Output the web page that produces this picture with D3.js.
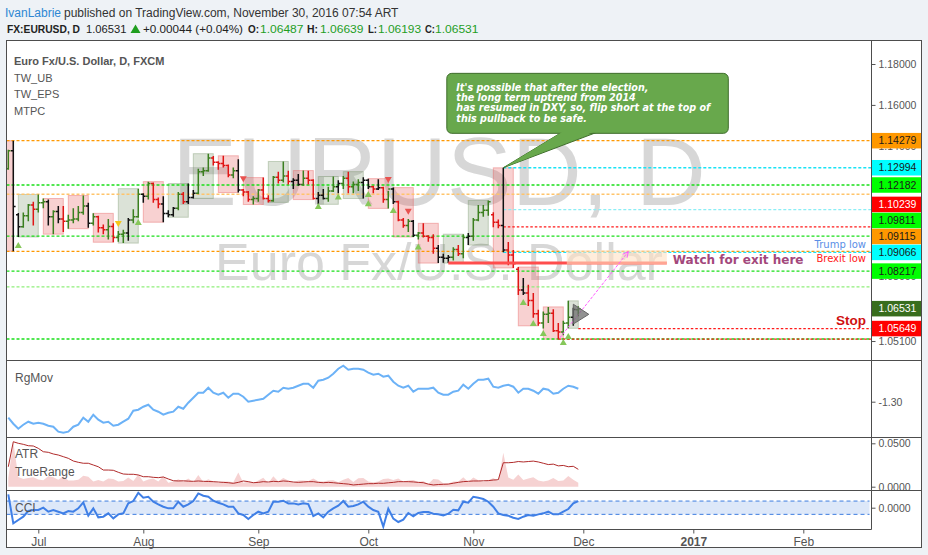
<!DOCTYPE html>
<html>
<head>
<meta charset="utf-8">
<script src="https://cdn.jsdelivr.net/npm/d3@7/dist/d3.min.js"></script>
<style>
  body { margin: 0; background: #eef2f6; }
  svg { display: block; font-family: "Liberation Sans", Arial, sans-serif; }
</style>
</head>
<body>
<div id="chart"></div>
<script>
// EURUSD daily (FXCM), Jun 23 - Nov 30 2016
const firstDay = new Date(2016, 5, 23);

// [open, high, low, close], one row per trading day
const ohlc = [
  [1.1295,1.1385,1.1290,1.1380],[1.1380,1.1428,1.0912,1.1118],[1.1080,1.1088,1.0977,1.1024],[1.1024,1.1090,1.1020,1.1075],
  [1.1075,1.1130,1.1050,1.1125],[1.1125,1.1140,1.1030,1.1105],[1.1105,1.1174,1.1090,1.1135],[1.1135,1.1155,1.1110,1.1140],
  [1.1140,1.1150,1.1030,1.1070],[1.1070,1.1100,1.0990,1.1095],[1.1095,1.1120,1.1040,1.1060],[1.1060,1.1120,1.1000,1.1050],
  [1.1050,1.1080,1.1015,1.1055],[1.1055,1.1110,1.1040,1.1060],[1.1060,1.1120,1.1050,1.1090],[1.1090,1.1169,1.1080,1.1120],
  [1.1120,1.1135,1.1020,1.1040],[1.1040,1.1086,1.1030,1.1070],[1.1070,1.1075,1.0998,1.1020],[1.1020,1.1035,1.0990,1.1010],
  [1.1010,1.1060,1.0965,1.1025],[1.1025,1.1040,1.0953,1.0975],[1.0975,1.1005,1.0955,1.0990],[1.0990,1.1010,1.0949,1.0995],
  [1.0995,1.1065,1.0960,1.1055],[1.1055,1.1105,1.1040,1.1070],[1.1070,1.1201,1.1066,1.1175],[1.1175,1.1180,1.1135,1.1165],
  [1.1165,1.1234,1.1150,1.1225],[1.1225,1.1230,1.1135,1.1150],[1.1150,1.1160,1.1110,1.1130],[1.1130,1.1165,1.1045,1.1085],
  [1.1085,1.1100,1.1068,1.1080],[1.1080,1.1115,1.1070,1.1110],[1.1110,1.1185,1.1100,1.1175],[1.1175,1.1185,1.1130,1.1140],
  [1.1140,1.1225,1.1130,1.1160],[1.1160,1.1195,1.1155,1.1180],[1.1180,1.1295,1.1175,1.1280],[1.1280,1.1300,1.1260,1.1285],
  [1.1285,1.1366,1.1280,1.1345],[1.1345,1.1355,1.1310,1.1325],[1.1325,1.1330,1.1290,1.1320],[1.1320,1.1356,1.1300,1.1310],
  [1.1310,1.1315,1.1255,1.1265],[1.1265,1.1300,1.1250,1.1285],[1.1285,1.1340,1.1183,1.1195],[1.1195,1.1200,1.1165,1.1185],
  [1.1185,1.1190,1.1140,1.1150],[1.1150,1.1165,1.1127,1.1155],[1.1155,1.1200,1.1140,1.1195],[1.1195,1.1253,1.1150,1.1155],
  [1.1155,1.1170,1.1137,1.1145],[1.1145,1.1260,1.1140,1.1255],[1.1255,1.1280,1.1225,1.1240],[1.1240,1.1329,1.1230,1.1260],
  [1.1260,1.1285,1.1220,1.1235],[1.1235,1.1250,1.1200,1.1240],[1.1240,1.1270,1.1215,1.1220],[1.1220,1.1286,1.1215,1.1250],
  [1.1250,1.1285,1.1220,1.1240],[1.1240,1.1245,1.1150,1.1155],[1.1155,1.1185,1.1128,1.1170],[1.1170,1.1200,1.1150,1.1155],
  [1.1155,1.1210,1.1140,1.1190],[1.1190,1.1258,1.1185,1.1210],[1.1210,1.1240,1.1180,1.1225],[1.1225,1.1260,1.1200,1.1250],
  [1.1250,1.1281,1.1180,1.1210],[1.1210,1.1235,1.1180,1.1220],[1.1220,1.1245,1.1190,1.1230],[1.1230,1.1255,1.1155,1.1240],
  [1.1240,1.1248,1.1200,1.1210],[1.1210,1.1215,1.1180,1.1200],[1.1200,1.1245,1.1195,1.1205],[1.1205,1.1210,1.1135,1.1150],
  [1.1150,1.1190,1.1109,1.1200],[1.1200,1.1206,1.1130,1.1140],[1.1140,1.1145,1.1050,1.1055],[1.1055,1.1065,1.1020,1.1030],
  [1.1030,1.1060,1.1000,1.1050],[1.1050,1.1055,1.0977,1.0985],[1.0985,1.1000,1.0965,1.0995],[1.0995,1.1040,1.0975,1.0980],
  [1.0980,1.0985,1.0955,1.0975],[1.0975,1.0990,1.0900,1.0925],[1.0925,1.0940,1.0858,1.0885],[1.0885,1.0900,1.0860,1.0880],
  [1.0880,1.0895,1.0858,1.0885],[1.0885,1.0930,1.0870,1.0920],[1.0920,1.0940,1.0890,1.0900],[1.0900,1.0990,1.0880,1.0975],
  [1.0975,1.0995,1.0940,1.0980],[1.0980,1.1065,1.0960,1.1055],[1.1055,1.1125,1.1050,1.1090],[1.1090,1.1125,1.1070,1.1100],
  [1.1100,1.1146,1.1075,1.1140],[1.1080,1.1091,1.1022,1.1045],[1.1045,1.1058,1.1017,1.1030],[1.1030,1.1299,1.0907,1.0917],
  [1.0917,1.0954,1.0848,1.0895],[1.0895,1.0917,1.0836,1.0855],[1.0830,1.0840,1.0714,1.0737],[1.0737,1.0790,1.0714,1.0723],
  [1.0723,1.0760,1.0665,1.0690],[1.0690,1.0723,1.0613,1.0630],[1.0630,1.0648,1.0577,1.0590],[1.0590,1.0640,1.0565,1.0628],
  [1.0628,1.0661,1.0590,1.0633],[1.0633,1.0650,1.0550,1.0555],[1.0555,1.0590,1.0518,1.0550],[1.0550,1.0600,1.0535,1.0588],
  [1.0590,1.0688,1.0566,1.0615],[1.0615,1.0657,1.0577,1.0649],[1.06487,1.06639,1.06193,1.06531]
];
// bars painted black (neutral) by the bar colouring study
const blackBars = [1,2,8,10,16,24,27,31,32,33,36,37,46,57,58,62,63,66,71,72,74,77,81,86,87,88,92,99,103,113];

const rgMov = [
  -1.46,-1.52,-1.57,-1.53,-1.50,-1.52,-1.51,-1.52,-1.54,-1.55,-1.60,-1.61,-1.60,-1.55,-1.53,-1.46,-1.50,-1.43,-1.48,-1.51,
  -1.50,-1.54,-1.53,-1.50,-1.47,-1.39,-1.38,-1.35,-1.33,-1.38,-1.40,-1.43,-1.41,-1.40,-1.35,-1.37,-1.31,-1.26,-1.21,-1.21,
  -1.16,-1.21,-1.23,-1.21,-1.26,-1.22,-1.22,-1.25,-1.30,-1.29,-1.28,-1.27,-1.23,-1.19,-1.20,-1.16,-1.17,-1.16,-1.14,-1.12,
  -1.12,-1.16,-1.09,-1.08,-1.06,-1.02,-0.97,-0.94,-0.98,-0.97,-0.97,-0.98,-1.01,-1.03,-1.02,-1.05,-1.04,-1.10,-1.14,-1.16,
  -1.14,-1.20,-1.17,-1.17,-1.17,-1.16,-1.21,-1.23,-1.23,-1.20,-1.19,-1.13,-1.17,-1.12,-1.08,-1.08,-1.07,-1.15,-1.16,-1.14,
  -1.13,-1.15,-1.21,-1.17,-1.17,-1.19,-1.22,-1.17,-1.18,-1.22,-1.21,-1.17,-1.14,-1.15,-1.17
];
const atr = [
  0.0230,0.0518,0.0500,0.0488,0.0472,0.0469,0.0442,0.0403,0.0396,0.0377,0.0365,0.0346,0.0327,0.0296,0.0281,0.0270,0.0270,0.0250,0.0230,0.0192,
  0.0192,0.0189,0.0166,0.0146,0.0143,0.0143,0.0135,0.0115,0.0115,0.0108,0.0104,0.0112,0.0089,0.0069,0.0066,0.0068,0.0064,0.0062,0.0066,0.0062,
  0.0060,0.0058,0.0054,0.0050,0.0046,0.0039,0.0050,0.0066,0.0058,0.0046,0.0050,0.0058,0.0054,0.0062,0.0058,0.0066,0.0062,0.0054,0.0050,0.0054,
  0.0058,0.0058,0.0050,0.0046,0.0050,0.0046,0.0040,0.0035,0.0030,0.0020,0.0025,0.0030,0.0035,0.0035,0.0040,0.0039,0.0045,0.0050,0.0058,0.0058,
  0.0058,0.0055,0.0050,0.0046,0.0030,0.0020,0.0025,0.0028,0.0030,0.0040,0.0050,0.0058,0.0062,0.0066,0.0066,0.0068,0.0070,0.0077,0.0080,0.0276,
  0.0276,0.0280,0.0290,0.0285,0.0290,0.0295,0.0285,0.0270,0.0255,0.0260,0.0240,0.0245,0.0230,0.0235,0.0200
];
const trueRange = [
  0.0100,0.0516,0.0111,0.0090,0.0100,0.0110,0.0084,0.0075,0.0120,0.0110,0.0080,0.0120,0.0070,0.0070,0.0080,0.0125,0.0115,0.0060,0.0077,0.0060,
  0.0095,0.0090,0.0060,0.0065,0.0105,0.0065,0.0141,0.0060,0.0084,0.0095,0.0060,0.0120,0.0045,0.0060,0.0085,0.0060,0.0095,0.0050,0.0135,0.0055,
  0.0086,0.0060,0.0045,0.0060,0.0060,0.0050,0.0165,0.0045,0.0060,0.0040,0.0070,0.0103,0.0040,0.0120,0.0060,0.0099,0.0070,0.0050,0.0070,0.0071,
  0.0065,0.0095,0.0062,0.0060,0.0070,0.0073,0.0050,0.0081,0.0101,0.0055,0.0096,0.0100,0.0060,0.0050,0.0060,0.0090,0.0095,0.0076,0.0095,0.0060,
  0.0070,0.0078,0.0055,0.0065,0.0030,0.0090,0.0082,0.0040,0.0037,0.0060,0.0060,0.0110,0.0055,0.0105,0.0075,0.0055,0.0071,0.0100,0.0060,0.0392,
  0.0106,0.0081,0.0140,0.0076,0.0095,0.0110,0.0071,0.0060,0.0071,0.0100,0.0066,0.0070,0.0122,0.0080,0.0046
];
const cci = [
  201,-235,-185,-135,-50,-35,-35,0,-60,-35,-60,-85,-50,-60,-10,80,-120,-10,-145,-135,
  -85,-160,-100,-85,65,100,225,150,165,90,50,15,-10,-10,90,15,50,100,215,180,
  165,105,75,50,15,15,-85,-110,-170,-110,-60,-85,-60,90,90,105,65,65,50,65,
  55,-125,-85,-145,-60,-10,30,100,15,25,50,90,15,-35,-60,-285,-15,-165,-215,-180,
  -80,-130,-80,-65,-65,-90,-100,-115,-90,-30,-40,90,75,165,150,130,90,15,-85,-110,
  -120,-150,-170,-135,-110,-120,-100,-85,-60,-100,-100,-60,-20,65,100
];

// TW_EPS signal markers
const sigIdx   = [2, 22, 26, 47, 62, 66, 72, 72, 76, 77, 80, 82, 103, 105, 107, 111, 112];
const sigPrice = [1.0940,1.1037,1.1046,1.1245,1.1120,1.1164,1.1176,1.1133,1.1242,1.1102,1.1094,1.0933,1.0683,1.0590,1.0545,1.0506,1.0532];
const sigKind  = ["up","warn","up","down","up","up","up","up","down","up","down","up","up","up","up","up","up"];

// horizontal levels drawn by the author
const levelPrice = [1.14279, 1.12994, 1.12182, 1.1175, 1.1103, 1.10239, 1.09811, 1.09115, 1.09066, 1.08217, 1.0751, 1.05649, 1.0519, 1.0518];
const levelFrom  = [-5, 99, -5, -5, 99, 99, -5, -5, 99, -5, -5, 114, -5, 110];
const levelKind  = ["orange","cyan","green","orangeLight","cyanLight","red","green","orange","cyan","green","greenLight","red","green","red"];
const levelTag   = [1, 1, 1, 0, 0, 1, 1, 1, 1, 1, 0, 1, 0, 0];
const levelNote  = {"1.09066": "Trump low", "1.09115": "Brexit low", "1.05649": "Stop"};
const lastPrice = 1.06531;

// axis ticks that are not hidden behind the level tags
const priceTicks = [1.18, 1.16, 1.14, 1.08, 1.051];

// drawings in chart coordinates (bar index, price)
const exitZone = {i0: 111.7, i1: 131.7, top: 1.0917, bottom: 1.0852};
const brexitLine = {i0: 88, i1: 131.7, price: 1.0858};
const projection = {i0: 110.3, p0: 1.0524, i1: 124, p1: 1.0910};
const lastMarker = [[113, 1.0673], [116.1, 1.0628], [113, 1.0585]];
const callout = {anchor: [99, 1.12994], i0: 87.7, i1: 144, top: 1.1754, bottom: 1.1463, base0: 110.7, base1: 117.7,
  lines: ["It's possible that after the election,", "the long term uptrend from 2014",
          "has resumed in DXY, so, flip short at the top of", "this pullback to be safe."]};

// ---------- layout ----------
const W = 928, H = 555;
const L = 6.5, R = 871.5, EDGE = 921.5, TOP = 40.5, BOTTOM = 547.5;
const pane = {price: [TOP, 360.5], rg: [360.5, 437.5], atr: [437.5, 490.5], cci: [490.5, 529.5]};

const days = d3.timeDays(firstDay, new Date(2017, 1, 28)).filter(d => d.getDay() % 6 !== 0);
const bars = ohlc.map((d, i) => ({i, date: days[i], o: d[0], h: d[1], l: d[2], c: d[3]}));
const black = new Set(blackBars);

const x = d3.scaleLinear().domain([0, 159]).range([8.3, 803.3]);
const y = d3.scaleLog().domain([1.0427, 1.1919]).range([360, 40]);
const yRg = d3.scaleLinear().domain([-1.653, -0.883]).range([437, 360]);
const yAtr = d3.scaleLinear().domain([0, 0.05]).range([486.7, 443.3]);
const yCci = d3.scaleLinear().domain([-100, 100]).range([514.35, 501.05]);

const svg = d3.select("#chart").append("svg").attr("width", W).attr("height", H);
const defs = svg.append("defs");
function clip(id, y0, y1, x1) {
  defs.append("clipPath").attr("id", id).append("rect")
    .attr("x", L + 0.5).attr("y", y0 + 0.5).attr("width", (x1 || R) - L - 1).attr("height", y1 - y0 - 1);
  return "url(#" + id + ")";
}

svg.append("rect").attr("width", W).attr("height", H).attr("fill", "#eef2f6");
svg.append("rect").attr("x", L).attr("y", TOP).attr("width", EDGE - L).attr("height", BOTTOM - TOP)
  .attr("fill", "#fff");

// ---------- header ----------
svg.append("text").attr("x", 5).attr("y", 17).attr("font-size", 12).attr("fill", "#2d87d3").text("IvanLabrie");
svg.append("text").attr("x", 64).attr("y", 17).attr("font-size", 12).attr("fill", "#333")
  .text("published on TradingView.com, November 30, 2016 07:54 ART");
const quote = [
  ["FX:EURUSD, D", 7, "bold", "#222", 73], ["1.06531", 86, "normal", "#222", 40.5], ["+0.00044 (+0.04%)", 143, "normal", "#222", 100],
  ["O:", 248, "bold", "#222", 11], ["1.06487", 260, "normal", "#1f9e1f", 43.5], ["H:", 307, "bold", "#222", 11],
  ["1.06639", 320, "normal", "#1f9e1f", 43.5], ["L:", 368, "bold", "#222", 9], ["1.06193", 378, "normal", "#1f9e1f", 43],
  ["C:", 425, "bold", "#222", 10], ["1.06531", 435, "normal", "#1f9e1f", 43.5]
];
svg.append("g").selectAll("text").data(quote).join("text")
  .attr("x", d => d[1]).attr("y", 33).attr("font-size", 11.5)
  .attr("font-weight", d => d[2]).attr("fill", d => d[3])
  .attr("textLength", d => d[4]).attr("lengthAdjust", "spacingAndGlyphs").text(d => d[0]);
svg.append("path").attr("d", "M130.5,33L135.5,24.5L140.5,33Z").attr("fill", "#1f9e1f");

// ---------- price pane ----------
const pg = svg.append("g").attr("clip-path", clip("cp-price", pane.price[0], pane.price[1]));
const midX = (L + R) / 2;
pg.append("text").attr("x", midX).attr("y", 205).attr("text-anchor", "middle")
  .attr("font-size", 97).attr("fill", "rgba(110,110,110,0.28)").text("EURUSD, D");
pg.append("text").attr("x", midX).attr("y", 280).attr("text-anchor", "middle")
  .attr("font-size", 52).attr("fill", "rgba(110,110,110,0.28)").text("Euro Fx/U.S. Dollar");

// weekly boxes (TW_UB)
const weeks = d3.groups(bars, b => +d3.timeMonday.floor(b.date)).map(([, g]) => {
  const first = g[0], last = g[g.length - 1];
  return {i0: first.i - (first.date.getDay() - 1), i1: last.i,
          hi: d3.max(g, b => b.h), lo: d3.min(g, b => b.l), up: last.c > first.o};
});
pg.append("g").selectAll("rect").data(weeks).join("rect")
  .attr("x", d => x(d.i0)).attr("width", d => x(d.i1) - x(d.i0))
  .attr("y", d => y(d.hi)).attr("height", d => y(d.lo) - y(d.hi))
  .attr("fill", d => d.up ? "rgba(110,140,95,0.25)" : "rgba(230,90,90,0.28)")
  .attr("stroke", d => d.up ? "rgba(110,140,95,0.35)" : "rgba(230,90,90,0.4)");

// horizontal levels
const levelStyle = {
  orange: "#ff9800", orangeLight: "#ffc46a", cyan: "#19e3f5", cyanLight: "#8ceef5",
  green: "#19e019", greenLight: "#8ff07a", red: "#ff1a1a"
};
const levels = levelPrice.map((p, k) => ({price: p, from: levelFrom[k], kind: levelKind[k], tag: levelTag[k]}));
pg.append("g").selectAll("line").data(levels).join("line")
  .attr("x1", d => Math.max(L, x(d.from))).attr("x2", R)
  .attr("y1", d => y(d.price)).attr("y2", d => y(d.price))
  .attr("stroke", d => levelStyle[d.kind]).attr("stroke-width", 1.3)
  .attr("stroke-dasharray", d => d.kind === "red" ? "2.5,2" : "3,2");

// OHLC bars
pg.append("g").selectAll("path").data(bars).join("path")
  .attr("d", b => `M${x(b.i)},${y(b.h)}V${y(b.l)}M${x(b.i) - 2.3},${y(b.o)}H${x(b.i)}M${x(b.i)},${y(b.c)}H${x(b.i) + 2.3}`)
  .attr("fill", "none").attr("stroke-width", 1.5)
  .attr("stroke", b => black.has(b.i) ? "#111" : b.c >= b.o ? "#3b7f1f" : "#e01515");

// signal triangles
const sigColor = {up: "#86c75a", down: "#e8524f", warn: "#f5c518"};
pg.append("g").selectAll("path").data(sigIdx.map((i, k) => ({i, p: sigPrice[k], kind: sigKind[k]}))).join("path")
  .attr("d", d => {
    const cx = x(d.i), cy = y(d.p);
    return d.kind === "up" ? `M${cx - 3.5},${cy + 3}L${cx + 3.5},${cy + 3}L${cx},${cy - 3}Z`
                           : `M${cx - 3.5},${cy - 3}L${cx + 3.5},${cy - 3}L${cx},${cy + 3}Z`;
  })
  .attr("fill", d => sigColor[d.kind]);

// brexit-low line and exit zone
pg.append("line").attr("x1", x(brexitLine.i0)).attr("x2", x(brexitLine.i1))
  .attr("y1", y(brexitLine.price)).attr("y2", y(brexitLine.price))
  .attr("stroke", "#ff4d4d").attr("stroke-width", 3);
pg.append("rect").attr("x", x(exitZone.i0)).attr("width", x(exitZone.i1) - x(exitZone.i0))
  .attr("y", y(exitZone.top)).attr("height", y(exitZone.bottom) - y(exitZone.top))
  .attr("fill", "rgba(255,225,195,0.6)");
pg.append("text").attr("x", x(exitZone.i1) + 6).attr("y", y(brexitLine.price) + 1)
  .attr("font-family", "DejaVu Sans").attr("font-weight", "bold").attr("font-size", 12)
  .attr("fill", "#a3487c").text("Watch for exit here");

// notes on levels
const noteStyle = {
  "Trump low": {fill: "#5a8ee6", size: 10, weight: "normal", family: "DejaVu Sans", dy: -4},
  "Brexit low": {fill: "#ff2020", size: 10, weight: "normal", family: "DejaVu Sans", dy: 10.5},
  "Stop": {fill: "#cf1010", size: 13.5, weight: "bold", family: "Liberation Sans", dy: -3.5}
};
pg.append("g").selectAll("text").data(levels.filter(d => levelNote[d.price])).join("text")
  .each(function (d) {
    const s = noteStyle[levelNote[d.price]];
    d3.select(this).attr("x", R - 5.5).attr("y", y(d.price) + s.dy).attr("text-anchor", "end")
      .attr("font-family", s.family).attr("font-size", s.size).attr("font-weight", s.weight)
      .attr("fill", s.fill).text(levelNote[d.price]);
  });

// projection arrow
defs.append("marker").attr("id", "head").attr("viewBox", "0 0 10 10").attr("refX", 9).attr("refY", 5)
  .attr("markerWidth", 7).attr("markerHeight", 7).attr("markerUnits", "userSpaceOnUse").attr("orient", "auto")
  .append("path").attr("d", "M1,1L9,5L1,9").attr("fill", "none").attr("stroke", "#ff5cff").attr("stroke-width", 1.3);
pg.append("line").attr("x1", x(projection.i0)).attr("y1", y(projection.p0))
  .attr("x2", x(projection.i1)).attr("y2", y(projection.p1))
  .attr("stroke", "#ff5cff").attr("stroke-width", 1).attr("stroke-dasharray", "3,1.5").attr("marker-end", "url(#head)");

// last bar marker
pg.append("path").attr("d", d3.line().x(d => x(d[0])).y(d => y(d[1]))(lastMarker) + "Z")
  .attr("fill", "rgba(110,110,110,0.75)").attr("stroke", "#666");

// callout
const cx0 = x(callout.i0), cx1 = x(callout.i1), cyT = y(callout.top), cyB = y(callout.bottom);
const tail = [[x(callout.base0), cyB - 1], [x(callout.anchor[0]), y(callout.anchor[1])], [x(callout.base1), cyB - 1]];
pg.append("path").attr("d", d3.line()(tail) + "Z").attr("fill", "#68a84c").attr("stroke", "#3f6d2c");
pg.append("rect").attr("x", cx0).attr("y", cyT).attr("width", cx1 - cx0).attr("height", cyB - cyT).attr("rx", 5)
  .attr("fill", "#68a84c").attr("stroke", "#3f6d2c");
pg.append("path").attr("d", d3.line()([[tail[0][0] + 1.5, cyB - 2], tail[1], [tail[2][0] - 1.5, cyB - 2]]) + "Z")
  .attr("fill", "#68a84c");
pg.append("g").selectAll("text").data(callout.lines).join("text")
  .attr("x", cx0 + 9.5).attr("y", (d, k) => cyT + 17.4 + k * 10.35)
  .attr("font-family", "DejaVu Sans").attr("font-weight", "bold").attr("font-style", "italic")
  .attr("font-size", 9.6).attr("fill", "#fff").text(d => d);

// legend
const legend = [["Euro Fx/U.S. Dollar, D, FXCM", "bold"], ["TW_UB", "normal"], ["TW_EPS", "normal"], ["MTPC", "normal"]];
svg.append("g").selectAll("text").data(legend).join("text")
  .attr("x", 14).attr("y", (d, k) => 65 + k * 16.7).attr("font-size", 11).attr("font-weight", d => d[1])
  .attr("fill", "#555").text(d => d[0]);

// ---------- indicator panes ----------
const rgG = svg.append("g").attr("clip-path", clip("cp-rg", pane.rg[0], pane.rg[1]));
rgG.append("path").datum(rgMov).attr("fill", "none").attr("stroke", "#6cb2f7").attr("stroke-width", 2)
  .attr("d", d3.line().x((d, i) => x(i)).y(d => yRg(d)));

const atrG = svg.append("g").attr("clip-path", clip("cp-atr", pane.atr[0], pane.atr[1]));
atrG.append("path").datum(trueRange).attr("fill", "#f6d2d2")
  .attr("d", d3.area().x((d, i) => x(i)).y0(yAtr(0)).y1(d => yAtr(d)));
atrG.append("path").datum(atr).attr("fill", "none").attr("stroke", "#b02a2a").attr("stroke-width", 1)
  .attr("d", d3.line().x((d, i) => x(i)).y(d => yAtr(d)));

const cciG = svg.append("g").attr("clip-path", clip("cp-cci", pane.cci[0], pane.cci[1]));
cciG.append("rect").attr("x", L).attr("width", 869.5 - L).attr("y", yCci(100)).attr("height", yCci(-100) - yCci(100))
  .attr("fill", "#dde8f9");
cciG.selectAll("line.band").data([100, -100]).join("line").attr("class", "band")
  .attr("x1", L).attr("x2", 869.5).attr("y1", d => yCci(d)).attr("y2", d => yCci(d))
  .attr("stroke", "#3d7de0").attr("stroke-dasharray", "4,3");
cciG.append("path").datum(cci).attr("fill", "none").attr("stroke", "#3f7fe6").attr("stroke-width", 2)
  .attr("d", d3.line().x((d, i) => x(i)).y(d => yCci(d)));

const paneLabels = [["RgMov", 382.3], ["ATR", 458.3], ["TrueRange", 475.7], ["CCI", 511.7]];
svg.append("g").selectAll("text").data(paneLabels).join("text")
  .attr("x", 15).attr("y", d => d[1]).attr("font-size", 12).attr("fill", "#555").text(d => d[0]);

// ---------- axes ----------
function styleAxis(g, size) {
  g.select(".domain").remove();
  g.selectAll("line").attr("stroke", "#555");
  g.selectAll("text").attr("fill", "#555").attr("font-size", size).attr("font-family", "Liberation Sans, Arial, sans-serif");
}
const axisClip = (id, p) => {
  defs.append("clipPath").attr("id", id).append("rect").attr("x", R).attr("y", p[0] + 0.5)
    .attr("width", EDGE - R).attr("height", p[1] - p[0] - 1);
  return "url(#" + id + ")";
};
svg.append("g").attr("clip-path", axisClip("ax-price", pane.price)).append("g").attr("transform", `translate(${R},0)`)
  .call(d3.axisRight(y).tickValues(priceTicks).tickSize(4).tickPadding(3).tickFormat(d => d.toFixed(5)))
  .call(g => styleAxis(g, 10.5));
svg.append("g").attr("clip-path", axisClip("ax-rg", pane.rg)).append("g").attr("transform", `translate(${R},0)`)
  .call(d3.axisRight(yRg).tickValues([-1.30]).tickSize(4).tickPadding(3).tickFormat(d => d.toFixed(2)))
  .call(g => styleAxis(g, 10.5));
svg.append("g").attr("clip-path", axisClip("ax-atr", pane.atr)).append("g").attr("transform", `translate(${R},0)`)
  .call(d3.axisRight(yAtr).tickValues([0, 0.05]).tickSize(4).tickPadding(3).tickFormat(d => d.toFixed(4)))
  .call(g => styleAxis(g, 10.5));
svg.append("g").attr("clip-path", axisClip("ax-cci", pane.cci)).append("g").attr("transform", `translate(${R},0)`)
  .call(d3.axisRight(yCci).tickValues([0]).tickSize(4).tickPadding(3).tickFormat(d => d.toFixed(4)))
  .call(g => styleAxis(g, 10.5));

// price tags, pushed up where they would collide
const tagStyle = {orange: ["#ff9800", "#1a1a1a"], cyan: ["#00ffff", "#1a1a1a"], green: ["#00ff00", "#1a1a1a"],
                  red: ["#ff0000", "#fff"], last: ["#386d1d", "#fff"]};
const tags = levels.filter(d => d.tag).map(d => ({price: d.price, kind: d.kind}));
tags.push({price: lastPrice, kind: "last"});
tags.forEach(t => t.y = y(t.price));
tags.sort((a, b) => b.y - a.y);
for (let k = 1; k < tags.length; k++) tags[k].y = Math.min(tags[k].y, tags[k - 1].y - 16);
const tagG = svg.append("g").attr("clip-path", axisClip("ax-tags", pane.price));
const tg = tagG.selectAll("g").data(tags).join("g").attr("transform", d => `translate(${R},${d.y})`);
tg.append("rect").attr("x", 0).attr("y", -7.75).attr("width", EDGE - R - 0.5).attr("height", 15.5)
  .attr("fill", d => tagStyle[d.kind][0]);
tg.append("text").attr("x", 7).attr("dy", "0.35em").attr("font-size", 10.5)
  .attr("fill", d => tagStyle[d.kind][1]).text(d => d.price.toFixed(5));

// time axis
const monthStarts = days.map((d, i) => ({d, i})).filter(({d, i}) => i > 0 && d.getMonth() !== days[i - 1].getMonth());
svg.append("g").attr("transform", `translate(0,${pane.cci[1]})`)
  .call(d3.axisBottom(x).tickValues(monthStarts.map(m => m.i)).tickSize(4).tickPadding(4)
    .tickFormat(i => { const d = days[i]; return d.getMonth() === 0 ? d3.timeFormat("%Y")(d) : d3.timeFormat("%b")(d); }))
  .call(g => styleAxis(g, 12))
  .call(g => g.selectAll("text").attr("font-weight", i => days[i].getMonth() === 0 ? "bold" : "normal"));

// ---------- frame ----------
const frame = svg.append("g").attr("fill", "none").attr("stroke", "#4d4d4d");
frame.append("rect").attr("x", L).attr("y", TOP).attr("width", EDGE - L).attr("height", BOTTOM - TOP);
frame.append("line").attr("x1", R).attr("x2", R).attr("y1", TOP).attr("y2", pane.cci[1]);
frame.selectAll("line.sep").data([pane.rg[0], pane.atr[0], pane.cci[0]]).join("line").attr("class", "sep")
  .attr("x1", L).attr("x2", EDGE).attr("y1", d => d).attr("y2", d => d);
frame.append("line").attr("x1", L).attr("x2", R).attr("y1", pane.cci[1]).attr("y2", pane.cci[1]);
</script>
</body>
</html>
